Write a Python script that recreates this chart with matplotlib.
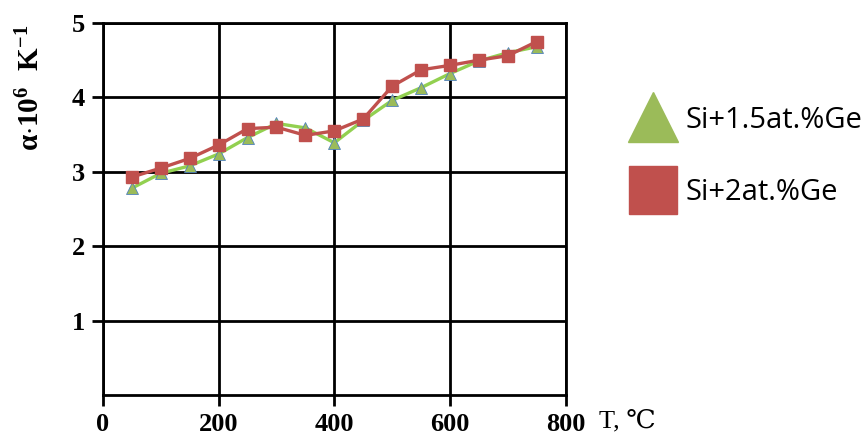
import matplotlib
matplotlib.use("Agg")
import matplotlib.pyplot as plt
from matplotlib.lines import Line2D

# temperature, deg C
T = [50, 100, 150, 200, 250, 300, 350, 400, 450, 500, 550, 600, 650, 700, 750]
# alpha * 10^6, K^-1
ALPHA_15 = [2.78, 2.98, 3.08, 3.24, 3.46, 3.65, 3.59, 3.39, 3.69, 3.96, 4.13, 4.32, 4.49, 4.60, 4.68]
ALPHA_2 = [2.93, 3.05, 3.18, 3.36, 3.58, 3.60, 3.49, 3.55, 3.71, 4.15, 4.37, 4.43, 4.50, 4.56, 4.75]

LABELS = ["Si+1.5at.%Ge", "Si+2at.%Ge"]
XTICKS = [0, 200, 400, 600, 800]
YTICKS = [1, 2, 3, 4, 5]

GREEN_LINE = "#92d050"
GREEN_FILL = "#9bbb59"
RED = "#c0504d"

plt.rcParams["mathtext.fontset"] = "custom"
plt.rcParams["mathtext.rm"] = "Liberation Serif:bold"
plt.rcParams["mathtext.it"] = "Liberation Serif:bold"
plt.rcParams["mathtext.bf"] = "Liberation Serif:bold"

fig = plt.figure(figsize=(8.65, 4.41), dpi=100)
ax = fig.add_axes([0.119, 0.104, 0.535, 0.844])

ax.plot(T, ALPHA_15, color=GREEN_LINE, lw=2.4, marker="^", ms=8,
        mfc=GREEN_FILL, mec="#4f81bd", mew=0.6, zorder=3)
ax.plot(T, ALPHA_2, color=RED, lw=2.4, marker="s", ms=8,
        mfc=RED, mec=RED, zorder=4)

ax.set_xlim(0, 800)
ax.set_ylim(0, 5)
ax.set_xticks(XTICKS)
ax.set_yticks(YTICKS)
ax.grid(True, color="black", lw=2)
for s in ax.spines.values():
    s.set_linewidth(2)
ax.tick_params(direction="out", length=8, width=2, pad=5)
for lab in ax.get_xticklabels() + ax.get_yticklabels():
    lab.set_fontfamily("Liberation Serif")
    lab.set_fontweight("bold")
    lab.set_fontsize(19)

fig.text(0.036, 0.8, r"$\mathrm{\alpha{\cdot}10^{6}\ \ K^{-1}}$", rotation=90,
         ha="center", va="center", fontsize=21)
fig.text(0.692, 0.045, "T, \u2103", family=["Liberation Serif", "DejaVu Serif"],
         fontsize=19, ha="left", va="center")

handles = [
    Line2D([], [], ls="none", marker="^", ms=36, mfc=GREEN_FILL, mec=GREEN_FILL),
    Line2D([], [], ls="none", marker="s", ms=35, mfc=RED, mec=RED),
]
fig.legend(handles, LABELS, loc="upper left", bbox_to_anchor=(0.698, 0.82),
           frameon=False, prop={"family": "Open Sans", "size": 21},
           labelspacing=1.5, handlelength=1.6, handletextpad=0.3)

fig.savefig("out.png", dpi=100)
